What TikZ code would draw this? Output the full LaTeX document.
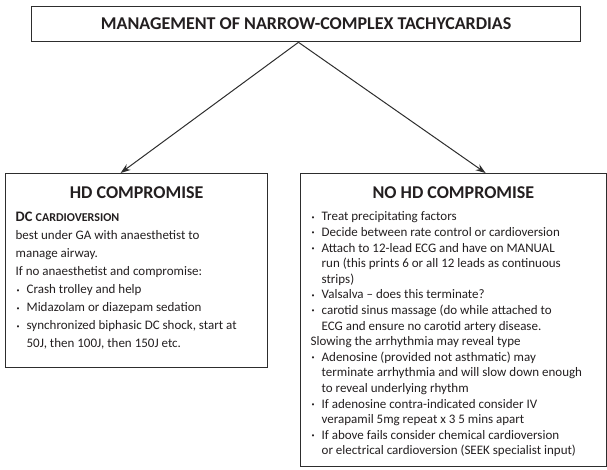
\documentclass[tikz,border=0pt]{standalone}
\usepackage{fontspec}
\setmainfont{Carlito}
\usetikzlibrary{arrows.meta, positioning, calc}
\definecolor{chart-ink}{RGB}{35, 31, 32}
\definecolor{chart-line}{RGB}{45, 45, 45}
\newcommand{\blt}{\raisebox{1.6pt}{\fontsize{6}{6}\selectfont\textbullet}}
\newcommand{\bline}[1]{\mbox{\makebox[11pt][l]{\hspace{1pt}\blt}#1}\par}
\newcommand{\nline}[1]{\mbox{\hspace*{11pt}#1}\par}
\newcommand{\pline}[1]{\mbox{#1}\par}
\newcommand{\headline}[1]{{\centering\bfseries\fontsize{18}{18}\selectfont #1\par}}

\begin{document}
\begin{tikzpicture}[x=1pt, y=-1pt,
        box/.style={draw=chart-line, line width=1.3pt, anchor=north west,
                    inner xsep=10pt, inner ysep=0pt, text=chart-ink},
        arr/.style={-{Stealth[length=10pt, width=7pt]}, line width=1pt, color=chart-line}
      ]
        \useasboundingbox (0,0) rectangle (607,469);
        \node[box, minimum width=549pt, minimum height=35pt, inner xsep=0pt,
              font=\bfseries\fontsize{18}{18}\selectfont] (title) at (31,6)
              {MANAGEMENT OF NARROW-COMPLEX TACHYCARDIAS};
        % left branch
        \node[box] (hd) at (5,173) {\parbox[t][194pt][t]{242pt}{%
          \fontsize{13}{18}\selectfont
          \vspace*{13.5pt}
          \headline{HD COMPROMISE}
          \vspace{5pt}
          \pline{\bfseries\fontsize{14.5}{18}\selectfont DC \fontsize{12}{18}\selectfont CARDIOVERSION}
          \pline{best under GA with anaesthetist to}
          \pline{manage airway.}
          \pline{If no anaesthetist and compromise:}
          \bline{Crash trolley and help}
          \bline{Midazolam or diazepam sedation}
          \bline{synchronized biphasic DC shock, start at}
          \nline{50J, then 100J, then 150J etc.}}};
        % right branch
        \node[box] (nohd) at (300,173) {\parbox[t][293pt][t]{285.5pt}{%
          \fontsize{13}{15.6}\selectfont
          \vspace*{13.5pt}
          \headline{NO HD COMPROMISE}
          \vspace{6.4pt}
          \bline{Treat precipitating factors}
          \bline{Decide between rate control or cardioversion}
          \bline{Attach to 12-lead ECG and have on MANUAL}
          \nline{run (this prints 6 or all 12 leads as continuous}
          \nline{strips)}
          \bline{Valsalva -- does this terminate?}
          \bline{carotid sinus massage (do while attached to}
          \nline{ECG and ensure no carotid artery disease.}
          \pline{Slowing the arrhythmia may reveal type}
          \bline{Adenosine (provided not asthmatic) may}
          \nline{terminate arrhythmia and will slow down enough}
          \nline{to reveal underlying rhythm}
          \bline{If adenosine contra-indicated consider IV}
          \nline{verapamil 5mg repeat x 3 5 mins apart}
          \bline{If above fails consider chemical cardioversion}
          \nline{or electrical cardioversion (SEEK specialist input)}}};
        \coordinate (apex) at ($(title.south west)!0.486!(title.south east)$);
        \draw[arr] (apex) -- ($(hd.north west)!0.439!(hd.north east)$);
        \draw[arr] (apex) -- ($(nohd.north west)!0.605!(nohd.north east)$);
      \end{tikzpicture}
\end{document}
